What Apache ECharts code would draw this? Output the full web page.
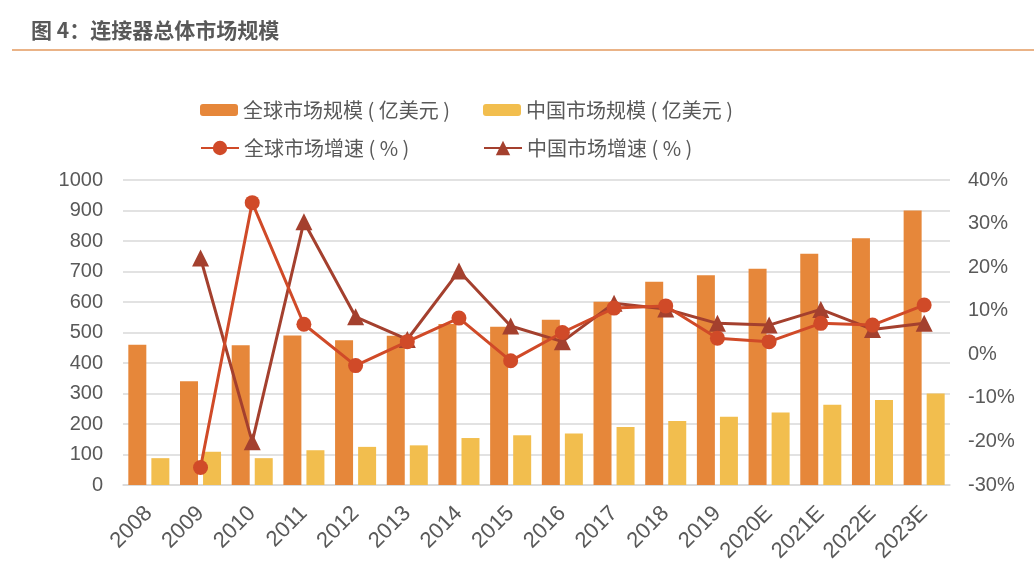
<!DOCTYPE html>
<html>
<head>
<meta charset="utf-8">
<script src="https://cdn.jsdelivr.net/npm/echarts@6/dist/echarts.min.js"></script>
<style>
html,body{margin:0;padding:0;background:#fff;}
#chart{width:1034px;height:584px;}
</style>
</head>
<body>
<div id="chart"></div>
<script>
var categories = ['2008','2009','2010','2011','2012','2013','2014','2015','2016','2017','2018','2019','2020E','2021E','2022E','2023E'];
var globalSize = [460,340,458,490,475,489,528,519,542,601,666,688,709,758,809,900];
var chinaSize = [88,109,88,114,125,130,154,163,169,190,210,224,238,263,279,300];
var globalGrowth = [null,-26.0,34.8,6.9,-2.6,2.9,8.3,-1.5,5.0,10.6,11.1,3.7,2.9,7.1,6.7,11.3];
var chinaGrowth = [null,22.1,-20.1,30.4,8.6,3.4,19.1,6.5,2.9,11.7,10.4,7.1,6.7,10.3,5.7,7.1];
var leftTicks = {min:0,max:1000,interval:100};
var rightTicks = {min:-30,max:40,interval:10};
var names = ['全球市场规模 ( 亿美元 )','中国市场规模 ( 亿美元 )','全球市场增速 ( % )','中国市场增速 ( % )'];

var FONT = '"Noto Sans CJK SC","Liberation Sans",sans-serif';
var NUMF = '"Liberation Sans",sans-serif';
var chart = echarts.init(document.getElementById('chart'), null, {renderer:'canvas'});
var legendText = {fontSize:20, color:'#595959', fontFamily:FONT};
function lg(name, left, top, h){
  return {data:[name], left:left, top:top, itemWidth:38, itemHeight:h, itemGap:6, textStyle:legendText, selectedMode:false};
}
chart.setOption({
  animation:false,
  title:{text:'图 4：连接器总体市场规模', left:26, top:15, textStyle:{fontSize:21, fontWeight:'bold', color:'#595959', fontFamily:FONT}},
  graphic:[{type:'line', shape:{x1:12,y1:50,x2:1034,y2:50}, style:{stroke:'#E39A5F', lineWidth:1.5}}],
  legend:[lg(names[0],195,95,12), lg(names[1],478,95,12), lg(names[2],195,133,18), lg(names[3],478,133,18)],
  grid:{left:123, right:84, top:180, bottom:99},
  xAxis:{type:'category', data:categories,
    axisLine:{show:true, lineStyle:{color:'#D9D9D9', width:1.5}},
    axisTick:{show:false},
    axisLabel:{rotate:45, fontSize:22, color:'#595959', fontFamily:NUMF, margin:25, interval:0}},
  yAxis:[
    {type:'value', min:leftTicks.min, max:leftTicks.max, interval:leftTicks.interval,
     axisLine:{show:false}, axisTick:{show:false},
     splitLine:{lineStyle:{color:'#D9D9D9', width:1.5}},
     axisLabel:{fontSize:20, color:'#595959', fontFamily:NUMF, margin:20, formatter:function(v){return String(v);}}},
    {type:'value', min:rightTicks.min, max:rightTicks.max, interval:rightTicks.interval,
     axisLine:{show:false}, axisTick:{show:false}, splitLine:{show:false},
     axisLabel:{fontSize:20, color:'#595959', fontFamily:NUMF, margin:18, formatter:'{value}%'}}
  ],
  series:[
    {name:names[0], type:'bar', data:globalSize, barWidth:18, barGap:'28%', itemStyle:{color:'#E6873A'}},
    {name:names[1], type:'bar', data:chinaSize, barWidth:18, itemStyle:{color:'#F2BE4E'}},
    {name:names[2], type:'line', yAxisIndex:1, data:globalGrowth, symbol:'circle', symbolSize:15,
     lineStyle:{color:'#D04A28', width:3}, itemStyle:{color:'#D04A28'}, z:5},
    {name:names[3], type:'line', yAxisIndex:1, data:chinaGrowth, symbol:'triangle', symbolSize:17,
     lineStyle:{color:'#A4402E', width:3}, itemStyle:{color:'#A4402E'}, z:4}
  ]
});
</script>
</body>
</html>
